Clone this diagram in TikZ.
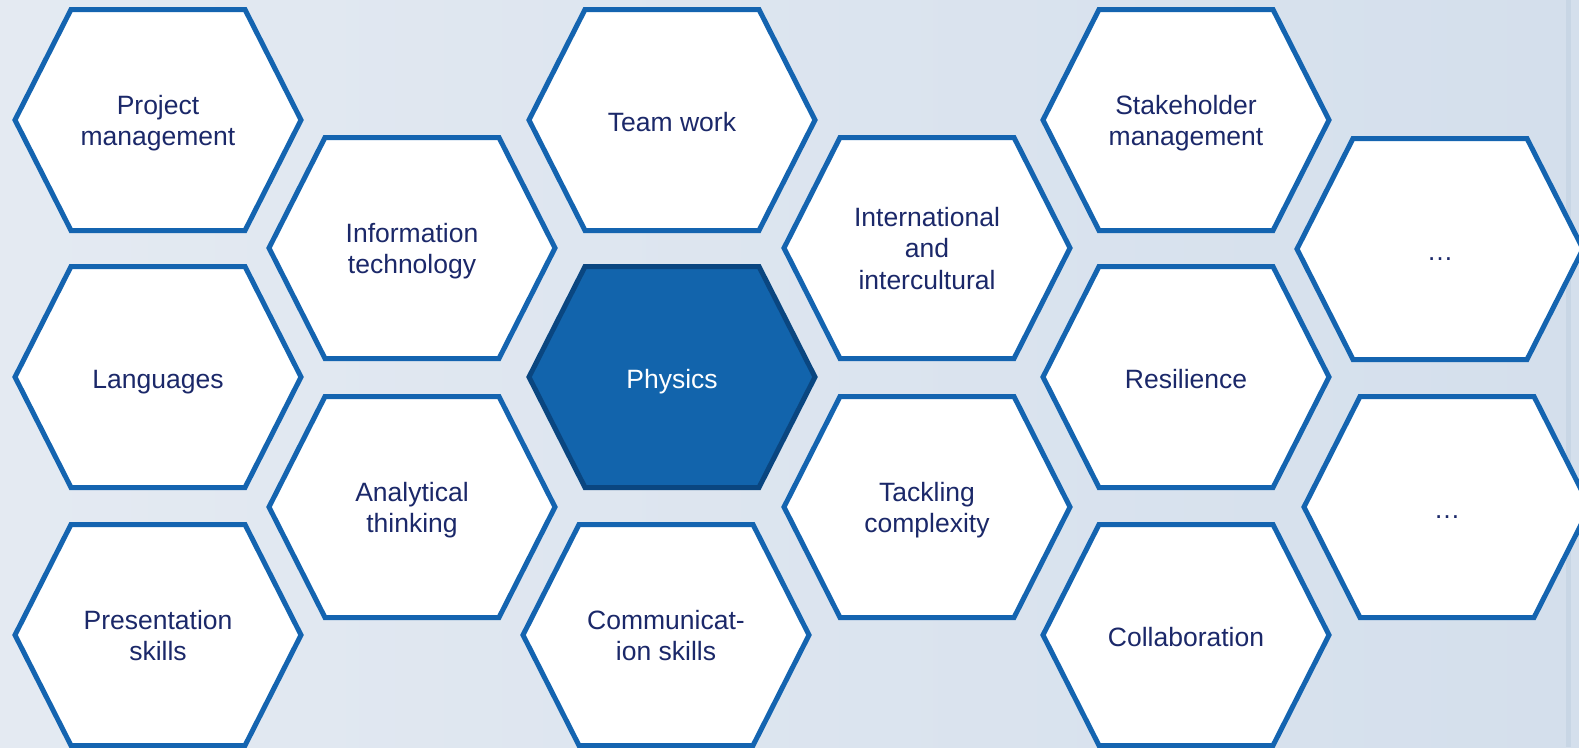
\documentclass[tikz,border=0pt]{standalone}
\usepackage{fontspec}
\setmainfont{Liberation Sans}
\definecolor{hexline}{RGB}{20,100,176}
\definecolor{hextext}{RGB}{27,40,105}
\definecolor{corefill}{RGB}{18,100,172}
\definecolor{coreline}{RGB}{10,70,128}
\definecolor{bgleft}{RGB}{228,234,242}
\definecolor{bgright}{RGB}{212,223,236}
\definecolor{bgstripe}{RGB}{200,214,229}
\tikzset{
  hexcell/.style={draw=hexline, fill=white, line width=5pt, line join=miter},
  corecell/.style={draw=coreline, fill=corefill, line width=5pt, line join=miter},
  hexlabel/.style={text=hextext, font=\fontsize{26.5}{31.5}\selectfont, align=center,
    inner sep=0pt, yshift=-5pt, execute at begin node=\strut, execute at end node=\strut},
  corelabel/.style={hexlabel, text=white}
}
\newcommand\hexat[5]{%
  \draw[#5cell, shift={(#1,#2)}] (-143,0) -- (-87,-110.5) -- (87,-110.5) -- (143,0) -- (87,110.5) -- (-87,110.5) -- cycle;
  \node[#5label] (#3) at (#1,#2) {#4};
}
\begin{document}
\begin{tikzpicture}[x=1pt,y=-1pt]
  \useasboundingbox (0,0) rectangle (1579,747);
  \shade[left color=bgleft, right color=bgright] (0,0) rectangle (1579,747);
  \fill[bgstripe] (1566,0) rectangle (1571,747);
  % column 0
  \hexat{158}{120}{pm}{Project\\management}{hex}
  \hexat{158}{377}{lang}{Languages}{hex}
  \hexat{158}{635}{pres}{Presentation\\skills}{hex}
  % column 1
  \hexat{412}{248}{it}{Information\\technology}{hex}
  \hexat{412}{507}{anal}{Analytical\\thinking}{hex}
  % column 2
  \hexat{672}{120}{team}{Team work}{hex}
  \hexat{672}{377}{phys}{Physics}{core}
  \hexat{666}{635}{comm}{Communicat-\\ion skills}{hex}
  % column 3
  \hexat{927}{248}{intl}{International\\and\\intercultural}{hex}
  \hexat{927}{507}{tack}{Tackling\\complexity}{hex}
  % column 4
  \hexat{1186}{120}{stake}{Stakeholder\\management}{hex}
  \hexat{1186}{377}{resil}{Resilience}{hex}
  \hexat{1186}{635}{collab}{Collaboration}{hex}
  % column 5
  \hexat{1440}{249}{etca}{…}{hex}
  \hexat{1447}{507}{etcb}{…}{hex}
\end{tikzpicture}
\end{document}
